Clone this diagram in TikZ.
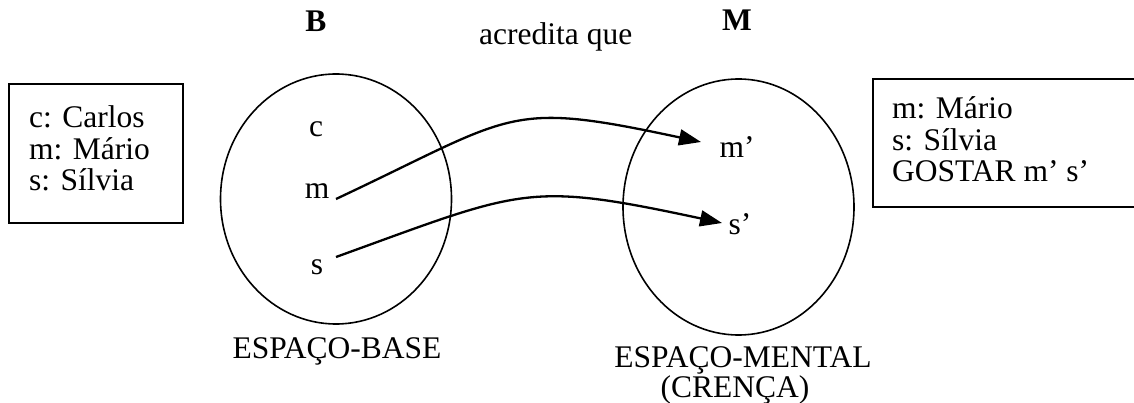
\documentclass[tikz,border=0pt]{standalone}
\usepackage{fontspec}
\setmainfont{Liberation Serif}
\usetikzlibrary{arrows.meta,shapes.geometric}
\begin{document}
\begin{tikzpicture}[x=1pt,y=-1pt,
  txt/.style={font=\fontsize{31.5}{31.5}\selectfont, inner sep=0pt},
  bold/.style={font=\fontsize{31.5}{31.5}\selectfont\bfseries, inner sep=0pt},
  box/.style={draw, line width=1.4pt},
  space/.style={draw, line width=1.6pt, ellipse, inner sep=0pt},
  link/.style={line width=2.3pt, -{Triangle[length=22pt,width=16pt]}}]
\useasboundingbox (0,0) rectangle (1134,403);
% left box
\draw[box] (9,84) rectangle (183,223);
\node[txt, anchor=base west] (lc) at (29,128) {c: Carlos};
\node[txt, anchor=base west] (lm) at (29,159.5) {m: Mário};
\node[txt, anchor=base west] (ls) at (29,191) {s: Sílvia};
% right box
\draw[box] (873,79) rectangle (1140,207);
\node[txt, anchor=base west] (rm) at (892,119) {m: Mário};
\node[txt, anchor=base west] (rs) at (892,150.5) {s: Sílvia};
\node[txt, anchor=base west] (rg) at (892,182) {GOSTAR m’ s’};
% spaces
\node[space, minimum width=231pt, minimum height=250pt] (base) at (336,199) {};
\node[space, minimum width=231pt, minimum height=256pt] (mental) at (738.5,207) {};
\node[bold, anchor=base] (B) at (316,32) {B};
\node[bold, anchor=base] (M) at (737,31) {M};
\node[txt, anchor=base west] (acr) at (479,45) {acredita que};
% elements
\node[txt, anchor=base] (c) at (316,137) {c};
\node[txt, anchor=base] (m) at (317,199) {m};
\node[txt, anchor=base] (s) at (317,274) {s};
\node[txt, anchor=base] (mp) at (737,158) {m’};
\node[txt, anchor=base] (sp) at (740,235) {s’};
% labels
\node[txt, anchor=base] (lb) at (337,358) {ESPAÇO-BASE};
\node[txt, anchor=base] (lm1) at (743,367) {ESPAÇO-MENTAL};
\node[txt, anchor=base] (lm2) at (735,397) {(CRENÇA)};
% connectors
\coordinate (m0) at (336,199);
\coordinate (m1) at (701,142);
\coordinate (s0) at (336,257);
\coordinate (s1) at (722,223);
\draw[link] (m0) .. controls +(181,-85) and +(-196,-42) .. (m1);
\draw[link] (s0) .. controls +(188,-68) and +(-196,-42) .. (s1);
\end{tikzpicture}
\end{document}
